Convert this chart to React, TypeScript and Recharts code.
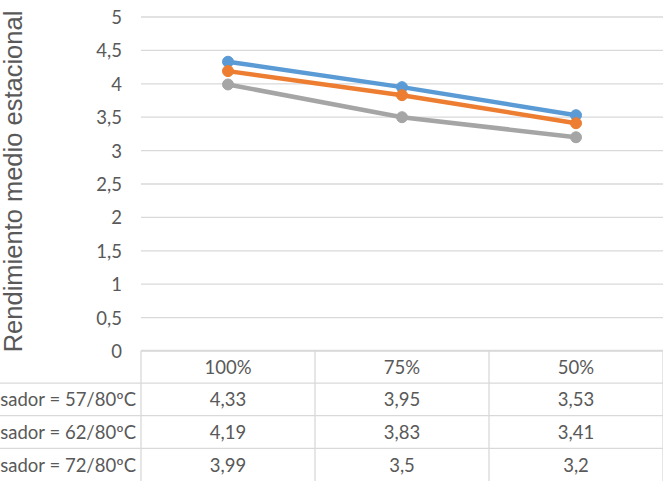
import React from 'react';
import { LineChart, Line, XAxis, YAxis, CartesianGrid } from 'recharts';

const categories = ['100%', '75%', '50%'];
const seriesNames = [
  'Temperatura condensador = 57/80ºC',
  'Temperatura condensador = 62/80ºC',
  'Temperatura condensador = 72/80ºC',
];
const s57 = [4.33, 3.95, 3.53];
const s62 = [4.19, 3.83, 3.41];
const s72 = [3.99, 3.5, 3.2];
const yTicks = [0, 0.5, 1, 1.5, 2, 2.5, 3, 3.5, 4, 4.5, 5];
const yLabel = 'Rendimiento medio estacional';

const colors = ['#5B9BD5', '#ED7D31', '#A5A5A5'];
const seriesValues = [s57, s62, s72];
const keys = ['s57', 's62', 's72'];

const data = categories.map((c, i) => ({ cat: c, s57: s57[i], s62: s62[i], s72: s72[i] }));

const fmt = (v: number) => String(v).replace('.', ',');
const FONT = 'Lato, "Noto Sans", sans-serif';
const TEXT = '#595959';
const GRID = '#D9D9D9';
const TABLE_TOP = 350.5;
const ROW_H = 32.6;
const COL_W = 174;
const FS = 18.5;

const XTick = (props: any) => {
  const { x, payload } = props;
  const idx = payload.index;
  const left = x - COL_W / 2;
  return (
    <g>
      <line x1={left} y1={TABLE_TOP} x2={left} y2={481} stroke={GRID} strokeWidth={1.3} />
      {idx === categories.length - 1 && (
        <line x1={left + COL_W} y1={TABLE_TOP} x2={left + COL_W} y2={481} stroke={GRID} strokeWidth={1.3} />
      )}
      <text x={x} y={TABLE_TOP + ROW_H / 2} textAnchor="middle" dominantBaseline="central" fill={TEXT} fontSize={FS} fontFamily={FONT}>
        {payload.value}
      </text>
      {seriesValues.map((vals, r) => (
        <text key={r} x={x} y={TABLE_TOP + ROW_H * (r + 1) + ROW_H / 2} textAnchor="middle" dominantBaseline="central" fill={TEXT} fontSize={FS} fontFamily={FONT}>
          {fmt(vals[idx])}
        </text>
      ))}
      {idx === 0 && (
        <g>
          <line x1={left} y1={TABLE_TOP} x2={663} y2={TABLE_TOP} stroke={GRID} strokeWidth={1.3} />
          {seriesNames.map((n, r) => (
            <g key={r}>
              <line x1={0} y1={TABLE_TOP + ROW_H * (r + 1)} x2={663} y2={TABLE_TOP + ROW_H * (r + 1)} stroke={GRID} strokeWidth={1.3} />
              <text x={left - 5} y={TABLE_TOP + ROW_H * (r + 1) + ROW_H / 2} textAnchor="end" dominantBaseline="central" fill={TEXT} fontSize={FS} fontFamily={FONT}>
                {n}
              </text>
            </g>
          ))}
        </g>
      )}
    </g>
  );
};

const YTick = (props: any) => {
  const { y, payload } = props;
  return (
    <text x={122} y={y} textAnchor="end" dominantBaseline="central" fill={TEXT} fontSize={FS} fontFamily={FONT}>
      {fmt(payload.value)}
    </text>
  );
};

const YLabel = () => (
  <text
    x={22}
    y={181.5}
    transform="rotate(-90, 22, 181.5)"
    textAnchor="middle"
    fill={TEXT}
    fontSize={25.5}
    fontFamily='"Liberation Sans", Arial, sans-serif'
  >
    {yLabel}
  </text>
);

export default function App() {
  return (
    <div style={{ position: 'absolute', left: 0, top: 0, width: 663, height: 481, background: '#fff' }}>
      <LineChart width={663} height={481} data={data} margin={{ top: 17, right: 0, left: 0, bottom: 0 }}>
        <CartesianGrid vertical={false} stroke={GRID} strokeWidth={1.3} />
        <XAxis
          dataKey="cat"
          height={130}
          axisLine={false}
          tickLine={false}
          padding={{ left: COL_W / 2, right: COL_W / 2 }}
          tick={<XTick />}
          interval={0}
        />
        <YAxis
          width={141}
          domain={[0, 5]}
          ticks={yTicks}
          axisLine={false}
          tickLine={false}
          tick={<YTick />}
          interval={0}
          label={<YLabel />}
        />
        {keys.map((k, i) => (
          <Line
            key={k}
            dataKey={k}
            name={seriesNames[i]}
            stroke={colors[i]}
            strokeWidth={4.5}
            dot={{ r: 5.5, fill: colors[i], stroke: colors[i], strokeWidth: 1 }}
            isAnimationActive={false}
          />
        ))}
      </LineChart>
    </div>
  );
}
